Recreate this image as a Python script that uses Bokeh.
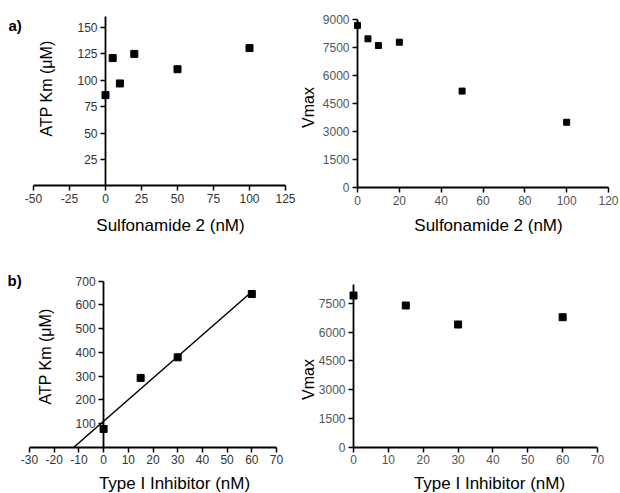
import math
import numpy as np
from bokeh.plotting import figure
from bokeh.layouts import column, row
from bokeh.models import Label, FixedTicker, Range1d
from bokeh.embed import file_html
from bokeh.resources import INLINE

# ---------------- data ----------------
sulf_conc = [0, 5, 10, 20, 50, 100]
sulf_km = [86, 121, 97, 125, 110.5, 130.5]
sulf_vmax = [8700, 7980, 7620, 7800, 5180, 3510]

type1_conc = [0, 15, 30, 60]
type1_km = [77, 292, 379, 646]
type1_vmax = [7900, 7380, 6390, 6770]

# tick values
a_left_xticks = [-50, -25, 0, 25, 50, 75, 100, 125]
a_left_yticks = [25, 50, 75, 100, 125, 150]
a_right_xticks = [0, 20, 40, 60, 80, 100, 120]
a_right_yticks = [0, 1500, 3000, 4500, 6000, 7500, 9000]
b_left_xticks = [-30, -20, -10, 0, 10, 20, 30, 40, 50, 60, 70]
b_left_yticks = [100, 200, 300, 400, 500, 600, 700]
b_right_xticks = [0, 10, 20, 30, 40, 50, 60, 70]
b_right_yticks = [0, 1500, 3000, 4500, 6000, 7500]

FONT = "Liberation Sans"


def make_panel(box, xanchor, yanchor, xbounds, ybounds, xticks, yticks, tick_color):
    """box: (left, top, width, height) on the page.
    xanchor: ((value, page_px), (value, page_px)) calibrating the x scale;
    yanchor likewise for y. The axes sit at 0 and are limited to *bounds."""
    ox, oy, W, H = box
    (xa, pxa), (xb, pxb) = xanchor
    (ya, pya), (yb, pyb) = yanchor
    sx = (xb - xa) / (pxb - pxa)
    sy = (yb - ya) / (pya - pyb)
    x0 = xa + (ox - pxa) * sx
    x1 = xa + (ox + W - pxa) * sx
    y0 = ya + (pya - (oy + H)) * sy
    y1 = ya + (pya - oy) * sy
    p = figure(width=W, height=H, x_range=Range1d(x0, x1), y_range=Range1d(y0, y1),
               output_backend="svg", toolbar_location=None, title=None,
               min_border_left=0, min_border_right=0,
               min_border_top=0, min_border_bottom=0)
    p.grid.visible = False
    p.outline_line_color = None
    p.background_fill_color = "white"
    p.border_fill_color = "white"
    p.xaxis.fixed_location = 0
    p.yaxis.fixed_location = 0
    p.xaxis.bounds = xbounds
    p.yaxis.bounds = ybounds
    p.xaxis.ticker = FixedTicker(ticks=xticks)
    p.yaxis.ticker = FixedTicker(ticks=yticks)
    p.xaxis.major_label_overrides = {v: str(v) for v in xticks if v < 0}
    for ax in (p.xaxis, p.yaxis):
        ax.axis_line_width = 1.8
        ax.axis_line_color = "black"
        ax.major_tick_line_width = 1.5
        ax.major_tick_line_color = "black"
        ax.major_tick_out = 5
        ax.major_tick_in = 0
        ax.minor_tick_line_color = None
        ax.major_label_text_font = FONT
        ax.major_label_text_font_size = "12px"
        ax.major_label_text_color = tick_color
        ax.major_label_standoff = 3
    return p, (ox, oy)


def add_text(panel, px, py, text, size="17px", angle=0.0, align="center",
             bold=False):
    p, (ox, oy) = panel
    p.add_layout(Label(x=px - ox, y=py - oy, x_units="canvas", y_units="canvas",
                       text=text, text_font=FONT, text_font_size=size,
                       text_color="black", text_align=align,
                       text_baseline="middle", angle=angle,
                       text_font_style="bold" if bold else "normal"))


# ---- a) left ----
P1 = make_panel((0, 0, 300, 250), ((-50, 33), (125, 285)), ((0, 185.4), (150, 27)),
                (-50, 125), (0, 160), a_left_xticks, a_left_yticks, "#333333")
P1[0].scatter(sulf_conc, sulf_km, marker="square", size=7, color="black")
add_text(P1, 170, 225, "Sulfonamide 2 (nM)")
add_text(P1, 46, 88, "ATP Km (μM)", size="16px", angle=math.pi / 2)
add_text(P1, 8, 25, "a)", size="15px", align="left", bold=True)

# ---- a) right ----
P2 = make_panel((300, 0, 320, 250), ((0, 357), (120, 608)), ((0, 187.3), (9000, 19.3)),
                (0, 120), (0, 9000), a_right_xticks, a_right_yticks, "#555555")
P2[0].scatter(sulf_conc, sulf_vmax, marker="square", size=6, color="black")
add_text(P2, 488, 225, "Sulfonamide 2 (nM)")
add_text(P2, 308, 107, "Vmax", size="16px", angle=math.pi / 2)

# ---- b) left ----
P3 = make_panel((0, 250, 300, 243), ((-30, 29), (70, 276)), ((0, 446.7), (700, 280.7)),
                (-30, 70), (0, 700), b_left_xticks, b_left_yticks, "#333333")
slope, intercept = np.polyfit(type1_conc, type1_km, 1)
x_start = -intercept / slope
x_end = max(type1_conc)
P3[0].line([x_start, x_end],
           [slope * x_start + intercept, slope * x_end + intercept],
           line_color="black", line_width=1.5)
P3[0].scatter(type1_conc, type1_km, marker="square", size=7, color="black")
add_text(P3, 174, 483, "Type I Inhibitor (nM)")
add_text(P3, 44.5, 356, "ATP Km (μM)", size="16px", angle=math.pi / 2)
add_text(P3, 7, 280, "b)", size="15px", align="left", bold=True)

# ---- b) right ----
P4 = make_panel((300, 250, 320, 243), ((0, 353), (70, 597)), ((0, 446.7), (7500, 302.7)),
                (0, 70), (0, 8500), b_right_xticks, b_right_yticks, "#555555")
P4[0].scatter(type1_conc, type1_vmax, marker="square", size=7, color="black")
add_text(P4, 489, 483, "Type I Inhibitor (nM)")
add_text(P4, 308, 379, "Vmax", size="16px", angle=math.pi / 2)

layout = column(row(P1[0], P2[0]), row(P3[0], P4[0]))
open("out.html", "w").write(file_html(layout, INLINE))
